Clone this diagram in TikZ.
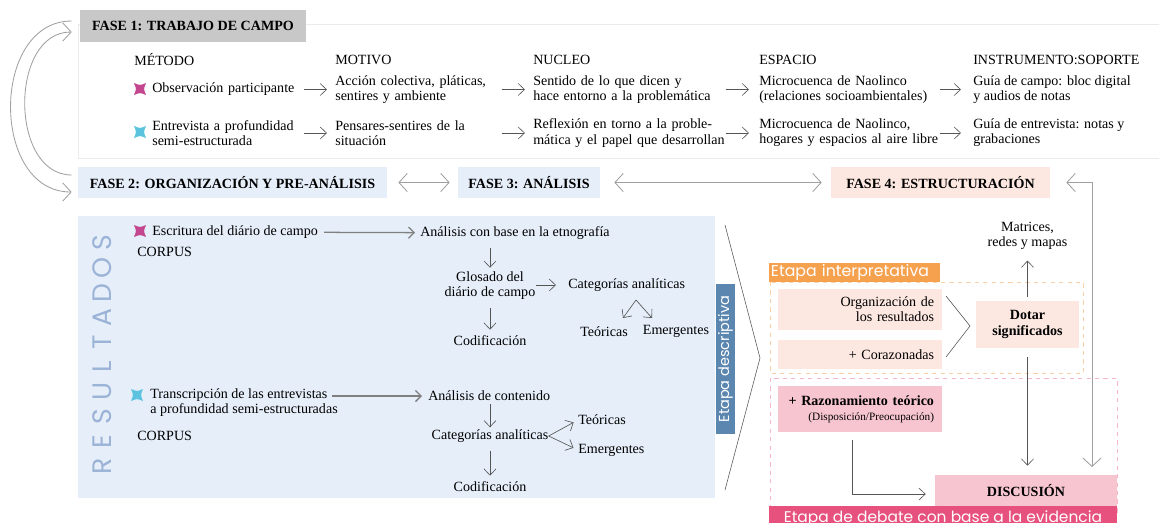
\documentclass[tikz,border=0pt]{standalone}
\usepackage{fontspec}
\setmainfont{Liberation Serif}
\newfontfamily\popfont{Poppins}
\usetikzlibrary{arrows.meta}

\definecolor{faseuno}{HTML}{C8C8C8}
\definecolor{azulclaro}{HTML}{E6EEF9}
\definecolor{rosaclaro}{HTML}{FCE8E1}
\definecolor{naranja}{HTML}{F6A14E}
\definecolor{naranjaclaro}{HTML}{FAD0A8}
\definecolor{rosa}{HTML}{F7C5D0}
\definecolor{rosalinea}{HTML}{F7B6C8}
\definecolor{fucsia}{HTML}{E6517D}
\definecolor{azuletapa}{HTML}{5B86AF}
\definecolor{azulletra}{HTML}{9BB3D6}
\definecolor{estrellamag}{HTML}{C4468E}
\definecolor{estrellacian}{HTML}{5CC3DF}
\definecolor{gris}{HTML}{A0A0A0}
\definecolor{grisosc}{HTML}{555555}

% estrella de cuatro puntas
\newcommand{\estrella}[2]{%
  \begin{scope}[shift={(#1)}]
    \fill[#2] (-6,-6) .. controls (0,-3.5) .. (6,-6) .. controls (3.5,0) .. (6,6)
      .. controls (0,3.5) .. (-6,6) .. controls (-3.5,0) .. (-6,-6) -- cycle;
  \end{scope}}

\begin{document}
\begin{tikzpicture}[x=0.025cm,y=-0.025cm,
    >={Straight Barb[length=4.5pt,width=8.5pt]},
    txt/.style={font=\fontsize{10}{10.8}\selectfont,inner sep=0pt,align=left,anchor=west},
    ctxt/.style={font=\fontsize{10}{10.8}\selectfont,inner sep=0pt,align=center},
    fase/.style={font=\fontsize{10}{12}\selectfont\bfseries,inner sep=0pt,minimum height=0.775cm},
    caja/.style={font=\fontsize{10}{10.8}\selectfont,inner xsep=0.2cm,inner ysep=0pt,align=right,text width=3.7cm},
    etiqueta/.style={font=\popfont\fontsize{10.5}{12}\selectfont,text=white,inner sep=0pt},
    arr/.style={->,draw=grisosc,line width=0.45pt},
    garr/.style={->,draw=gris,line width=0.6pt,>={Straight Barb[length=6pt,width=13pt]}},
    lin/.style={->,draw=gray,line width=0.9pt,>={Straight Barb[length=4pt,width=8pt]}}]
  \useasboundingbox (0,0) rectangle (1159,522);
  \clip (0,0) rectangle (1159,522);

  % fase 1
  \draw[draw=black!8,fill=white] (78,24) rectangle (1165,158);
  \node[fase,fill=faseuno,minimum width=5.65cm,minimum height=0.8cm] (f1) at (193,26) {FASE 1: TRABAJO DE CAMPO};
  \node[txt] (hmet) at (134,60) {MÉTODO};
  \node[txt] (hmot) at (335,60) {MOTIVO};
  \node[txt] (hnuc) at (533,60) {NUCLEO};
  \node[txt] (hesp) at (759,60) {ESPACIO};
  \node[txt] (hins) at (973,60) {INSTRUMENTO:SOPORTE};

  \estrella{140,89}{estrellamag}
  \node[txt,text width=3.65cm] (met1) at (152,89.5) {Observación participante};
  \node[txt,text width=4.025cm] (mot1) at (335,89.5) {Acción colectiva, pláticas,\\sentires y ambiente};
  \node[txt,text width=4.8cm] (nuc1) at (533,89.5) {Sentido de lo que dicen y\\hace entorno a la problemática};
  \node[txt,text width=4.5cm] (esp1) at (759,89.5) {Microcuenca de Naolinco\\(relaciones socioambientales)};
  \node[txt] (ins1) at (973,89.5) {Guía de campo: bloc digital\\y audios de notas};
  \draw[arr,shorten <=0.125cm,shorten >=0.2cm] (met1) -- (mot1);
  \draw[arr,shorten <=0.125cm,shorten >=0.2cm] (mot1) -- (nuc1);
  \draw[arr,shorten <=0cm,shorten >=0.25cm] (nuc1) -- (esp1);
  \draw[arr,shorten <=0cm,shorten >=0.3cm] (esp1) -- (ins1);

  \estrella{140,132}{estrellacian}
  \node[txt,text width=3.65cm] (met2) at (152,133) {Entrevista a profundidad\\semi-estructurada};
  \node[txt,text width=4.025cm] (mot2) at (335,133) {Pensares-sentires de la\\situación};
  \node[txt,text width=4.8cm] (nuc2) at (533,133) {Reflexión en torno a la proble-\\mática y el papel que desarrollan};
  \node[txt,text width=4.5cm] (esp2) at (759,133) {Microcuenca de Naolinco,\\hogares y espacios al aire libre};
  \node[txt] (ins2) at (973,133) {Guía de entrevista: notas y\\grabaciones};
  \draw[arr,shorten <=0.125cm,shorten >=0.2cm] (met2) -- (mot2);
  \draw[arr,shorten <=0.125cm,shorten >=0.2cm] (mot2) -- (nuc2);
  \draw[arr,shorten <=0cm,shorten >=0.25cm] (nuc2) -- (esp2);
  \draw[arr,shorten <=0cm,shorten >=0.3cm] (esp2) -- (ins2);

  % fases 2, 3 y 4
  \node[fase,fill=azulclaro,minimum width=7.725cm] (f2) at (232.5,182.5) {FASE 2: ORGANIZACIÓN Y PRE-ANÁLISIS};
  \node[fase,fill=azulclaro,minimum width=3.55cm] (f3) at (529,182.5) {FASE 3: ANÁLISIS};
  \node[fase,fill=rosaclaro,minimum width=5.475cm] (f4) at (940.5,182.5) {FASE 4: ESTRUCTURACIÓN};
  \draw[garr,<->,shorten <=0.275cm,shorten >=0.2cm] (f2) -- (f3);
  \draw[garr,<->,shorten <=0.35cm,shorten >=0.225cm] (f3) -- (f4);
  \draw[garr] ([shift={(-8,-5)}]f1.west) to[out=180,in=180,looseness=1.22] ([shift={(-6,9.5)}]f2.west);
  \draw[garr] ([shift={(-6,-7.5)}]f2.west) to[out=180,in=180,looseness=1.12] ([shift={(-8,6)}]f1.west);
  \coordinate (bajo) at (1092,467);
  \draw[garr,<->] ([xshift=0.4cm]f4.east) -| (bajo);

  % resultados
  \fill[azulclaro] (78,216) rectangle (715,498);
  \foreach \letra [count=\i] in {R,E,S,U,L,T,A,D,O,S}
    \node[font=\popfont\fontsize{19}{19}\selectfont,text=azulletra,rotate=90,inner sep=0pt] (res\i) at (102,491-\i*24.8) {\letra};

  \estrella{140,231}{estrellamag}
  \node[txt] (esc) at (152,232) {Escritura del diário de campo};
  \node[txt] (corp1) at (137,252) {CORPUS};
  \node[txt] (ana1) at (420,233) {Análisis con base en la etnografía};
  \draw[lin,shorten <=0.15cm,shorten >=0.125cm] (esc) -- (ana1);
  \node[ctxt] (glo) at (490,286) {Glosado del\\diário de campo};
  \node[txt] (cat1) at (568,285) {Categorías analíticas};
  \node[ctxt] (cod1) at (490,341) {Codificación};
  \node[ctxt] (teo1) at (604,332) {Teóricas};
  \node[ctxt] (eme1) at (676,331) {Emergentes};
  \draw[arr,shorten <=0.2cm,shorten >=0.1cm] (ana1.south -| glo.north) -- (glo.north);
  \draw[arr,shorten >=0.3cm] (glo.east |- cat1.west) -- (cat1.west);
  \draw[arr,shorten <=0.2cm,shorten >=0.15cm] (glo) -- (cod1);
  \coordinate (vert1) at (636,300);
  \coordinate (pteo1) at (623,318);
  \coordinate (peme1) at (652,318);
  \draw[arr] (vert1) -- (pteo1);
  \draw[arr] (vert1) -- (peme1);

  \estrella{137,395}{estrellacian}
  \node[txt] (tra) at (150,402.5) {Transcripción de las entrevistas\\a profundidad semi-estructuradas};
  \node[txt] (corp2) at (137,436) {CORPUS};
  \node[txt] (ana2) at (428,396) {Análisis de contenido};
  \draw[lin,shorten >=0.15cm] ([xshift=-0.15cm]tra.east |- ana2.west) -- (ana2.west);
  \node[ctxt] (cat2) at (490,436) {Categorías analíticas};
  \node[txt] (teo2) at (578,420) {Teóricas};
  \node[txt] (eme2) at (578,450) {Emergentes};
  \node[ctxt] (cod2) at (490,487) {Codificación};
  \draw[arr,shorten <=0.08cm,shorten >=0.05cm] (ana2.south -| cat2.north) -- (cat2.north);
  \draw[arr,shorten >=0.125cm] (cat2.east) -- (teo2.west);
  \draw[arr,shorten >=0.125cm] (cat2.east) -- (eme2.west);
  \draw[arr,shorten <=0.2cm,shorten >=0.15cm] (cat2) -- (cod2);

  \node[etiqueta,fill=azuletapa,rotate=90,minimum width=3.75cm,minimum height=0.475cm,font=\popfont\fontsize{10.3}{12}\selectfont] (edes) at (725.5,359) {Etapa descriptiva};
  \draw[grisosc,line width=0.4pt] (725,225) -- (760,358) -- (725,490);

  % fase 4
  \node[ctxt] (mat) at (1027.5,235.5) {Matrices,\\redes y mapas};
  \draw[draw=naranjaclaro,dashed,line width=0.6pt] (770,282) rectangle (1083,373);
  \node[etiqueta,fill=naranja,text width=4.175cm,align=left,inner xsep=0.05cm,minimum height=0.475cm,font=\popfont\fontsize{11.2}{12}\selectfont] (eint) at (854.5,272.5) {Etapa interpretativa};
  \node[caja,fill=rosaclaro,minimum height=1.025cm] (org) at (860,309.5) {Organización de\\los resultados};
  \node[caja,fill=rosaclaro,minimum height=0.725cm] (cor) at (860,354.5) {+ Corazonadas};
  \draw[grisosc,line width=0.4pt] (946,296) -- (970,326) -- (946,357);
  \node[ctxt,fill=rosaclaro,font=\fontsize{10}{12}\selectfont\bfseries,minimum width=2.575cm,minimum height=1.175cm] (dot) at (1027.5,324.5) {Dotar\\significados};
  \draw[arr,shorten <=0.1cm,shorten >=0.275cm] (dot) -- (mat);

  \draw[draw=rosalinea,dashed,line width=0.6pt] (770,378) rectangle (1117,512);
  \node[caja,fill=rosa,minimum height=1.15cm] (raz) at (860,409) {\textbf{+ Razonamiento teórico}\\{\fontsize{8}{9}\selectfont(Disposición/Preocupación)}};
  \node[ctxt,fill=rosa,font=\fontsize{10}{12}\selectfont\bfseries,minimum width=4.55cm,minimum height=0.775cm] (disc) at (1026,490.5) {DISCUSIÓN};
  \draw[arr,shorten <=0.225cm,shorten >=0.225cm] (dot.south) -- (dot.south |- disc.north);
  \draw[arr,shorten <=0.2cm,shorten >=0.225cm] ([xshift=-0.2cm]raz.south) |- ([yshift=-0.09cm]disc.west);
  \node[etiqueta,fill=fucsia,minimum width=8.7cm,minimum height=0.6cm,anchor=north,font=\popfont\fontsize{11}{12}\selectfont] (edeb) at (943,506) {Etapa de debate con base a la evidencia};
\end{tikzpicture}
\end{document}
